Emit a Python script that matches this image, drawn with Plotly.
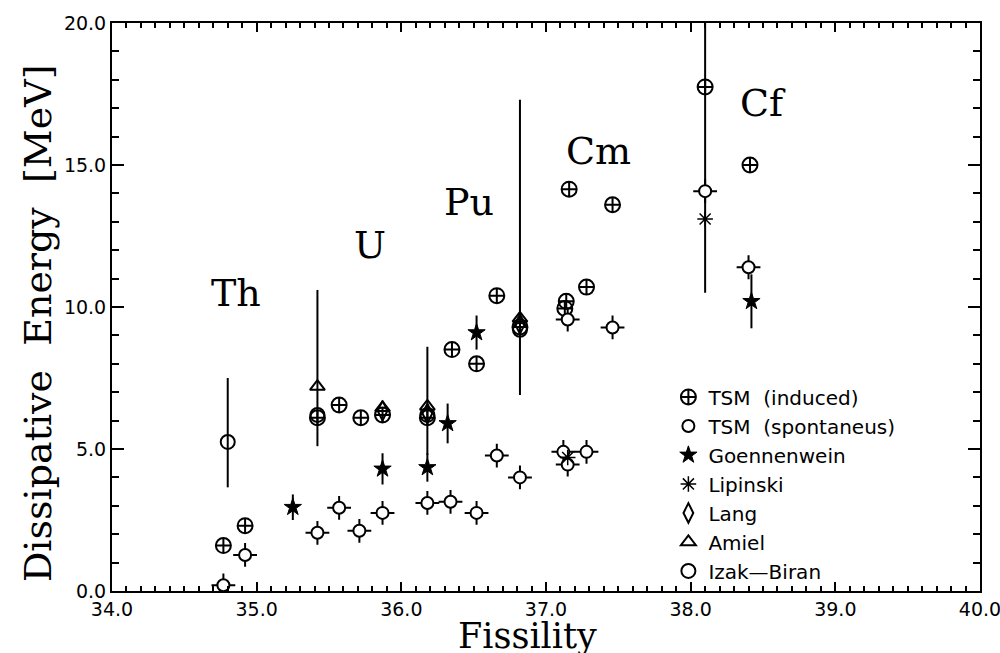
import plotly.graph_objects as go

# ---- data ----
tsm_ind_x = [34.77, 34.92, 35.42, 35.57, 35.72, 35.87, 36.18, 36.35, 36.52, 36.66, 36.82, 37.13, 37.14, 37.16, 37.28, 37.46, 38.10, 38.41]
tsm_ind_y = [1.6, 2.3, 6.1, 6.55, 6.1, 6.2, 6.1, 8.5, 8.0, 10.4, 9.3, 9.95, 10.2, 14.15, 10.7, 13.6, 17.75, 15.0]
tsm_ind_ep = [0, 0, 0, 0, 0, 0, 0, 0, 0, 0, 0, 0, 0, 0, 0, 0, 2.45, 0]
tsm_ind_em = [0, 0, 0, 0, 0, 0, 0, 0, 0, 0, 0, 0, 0, 0, 0, 0, 7.25, 0]

tsm_sp_x = [34.77, 34.92, 35.42, 35.57, 35.71, 35.87, 36.18, 36.34, 36.52, 36.66, 36.82, 37.12, 37.15, 37.28, 37.15, 37.46, 38.10, 38.40]
tsm_sp_y = [0.2, 1.27, 2.05, 2.93, 2.12, 2.75, 3.1, 3.14, 2.75, 4.77, 4.0, 4.9, 4.45, 4.9, 9.56, 9.28, 14.08, 11.4]

goen_x = [35.25, 35.87, 36.18, 36.32, 36.52, 38.42]
goen_y = [2.95, 4.3, 4.35, 5.9, 9.1, 10.2]
goen_err = [0.45, 0.55, 0.5, 0.7, 0.6, 0.95]

lip_x = [37.15, 38.10]
lip_y = [4.7, 13.1]

lang_x = [35.87, 36.18, 36.82]
lang_y = [6.35, 6.25, 9.4]

amiel_x = [35.42, 35.87, 36.18, 36.82]
amiel_y = [7.2, 6.45, 6.5, 9.6]
amiel_ep = [3.4, 0, 2.1, 7.7]
amiel_em = [2.1, 0, 1.7, 2.7]

izak_x = [34.80, 35.42, 36.18, 36.82]
izak_y = [5.25, 6.2, 6.2, 9.2]
izak_ep = [2.25, 0, 0, 0]
izak_em = [1.6, 0, 0, 0]

element_names = ["Th", "U", "Pu", "Cm", "Cf"]
element_x = [34.86, 35.78, 36.47, 37.36, 38.50]
element_y = [10.5, 12.2, 13.7, 15.5, 17.2]

x_ticks = [34.0, 35.0, 36.0, 37.0, 38.0, 39.0, 40.0]
y_ticks = [0.0, 5.0, 10.0, 15.0, 20.0]

NB = "\u00a0"
BLK = "black"

fig = go.Figure()

def err(plus, minus):
    return dict(type="data", symmetric=False, array=plus, arrayminus=minus,
                color=BLK, thickness=2, width=0)

# TSM induced
fig.add_trace(go.Scatter(
    x=tsm_ind_x, y=tsm_ind_y, mode="markers", name="TSM" + NB * 2 + "(induced)",
    marker=dict(symbol="circle-cross-open", size=15, color=BLK, line=dict(width=2, color=BLK)),
    error_y=err(tsm_ind_ep, tsm_ind_em)))

# TSM spontaneous: short cross ticks beneath a white circle
fig.add_trace(go.Scatter(
    x=tsm_sp_x, y=tsm_sp_y, mode="markers", showlegend=False, hoverinfo="skip",
    marker=dict(symbol="cross-thin-open", size=17, color=BLK, line=dict(width=2, color=BLK))))
fig.add_trace(go.Scatter(
    x=tsm_sp_x, y=tsm_sp_y, mode="markers", name="TSM" + NB * 2 + "(spontaneus)",
    marker=dict(symbol="circle", size=12, color="white", line=dict(width=2, color=BLK))))

fig.add_trace(go.Scatter(
    x=goen_x, y=goen_y, mode="markers", name="Goennenwein",
    marker=dict(symbol="star", size=13, color=BLK, line=dict(width=1, color=BLK)),
    error_y=err(goen_err, goen_err)))

fig.add_trace(go.Scatter(
    x=lip_x, y=lip_y, mode="markers", name="Lipinski",
    marker=dict(symbol="asterisk-open", size=13, color=BLK, line=dict(width=1.5, color=BLK))))

fig.add_trace(go.Scatter(
    x=lang_x, y=lang_y, mode="markers", name="Lang",
    marker=dict(symbol="diamond-tall-open", size=14, color=BLK, line=dict(width=2, color=BLK))))

fig.add_trace(go.Scatter(
    x=amiel_x, y=amiel_y, mode="markers", name="Amiel",
    marker=dict(symbol="triangle-up-open", size=13, color=BLK, line=dict(width=2, color=BLK)),
    error_y=err(amiel_ep, amiel_em)))

fig.add_trace(go.Scatter(
    x=izak_x, y=izak_y, mode="markers", name="Izak-Biran".replace("-", "\u2014"),
    marker=dict(symbol="circle-open", size=14, color=BLK, line=dict(width=2, color=BLK)),
    error_y=err(izak_ep, izak_em)))

for name, ex, ey in zip(element_names, element_x, element_y):
    fig.add_annotation(x=ex, y=ey, text=name, showarrow=False,
                       font=dict(family="DejaVu Serif", size=38, color=BLK))

# axis titles as annotations
fig.add_annotation(xref="paper", yref="paper", x=0.479, y=-0.08, yanchor="middle",
                   text="Fissility", showarrow=False,
                   font=dict(family="DejaVu Serif", size=35, color=BLK))
fig.add_annotation(xref="paper", yref="paper", x=-0.085, y=0.472, xanchor="center", yanchor="middle",
                   text="Dissipative" + NB * 2 + "Energy" + NB * 2 + "[MeV]", textangle=-90,
                   showarrow=False, font=dict(family="DejaVu Serif", size=38, color=BLK))

axis_common = dict(showline=True, linecolor=BLK, linewidth=2, mirror="ticks",
                   ticks="inside", tickcolor=BLK, tickwidth=2, showgrid=False, zeroline=False,
                   ticklabeloverflow="allow", automargin=False,
                   tickfont=dict(family="DejaVu Sans", size=19, color=BLK))

fig.update_xaxes(range=[34, 40], tickvals=x_ticks, ticktext=[f"{v:.1f}" for v in x_ticks],
                 ticklen=9, minor=dict(dtick=0.1, ticks="inside", ticklen=5, tickcolor=BLK, tickwidth=1.5, showgrid=False),
                 **axis_common)
fig.update_yaxes(range=[0, 20], tickvals=y_ticks, ticktext=[f"{v:.1f}" for v in y_ticks],
                 ticklen=12, minor=dict(dtick=1, ticks="inside", ticklen=7, tickcolor=BLK, tickwidth=1.5, showgrid=False),
                 **axis_common)

fig.update_layout(
    width=1000, height=653,
    margin=dict(l=112, r=20, t=23, b=62),
    paper_bgcolor="white", plot_bgcolor="white",
    legend=dict(x=0.641, y=0.376, xanchor="left", yanchor="top", bgcolor="rgba(0,0,0,0)",
                font=dict(family="DejaVu Sans", size=20, color=BLK), tracegroupgap=0,
                itemwidth=30),
)

fig.write_html("out.html")
